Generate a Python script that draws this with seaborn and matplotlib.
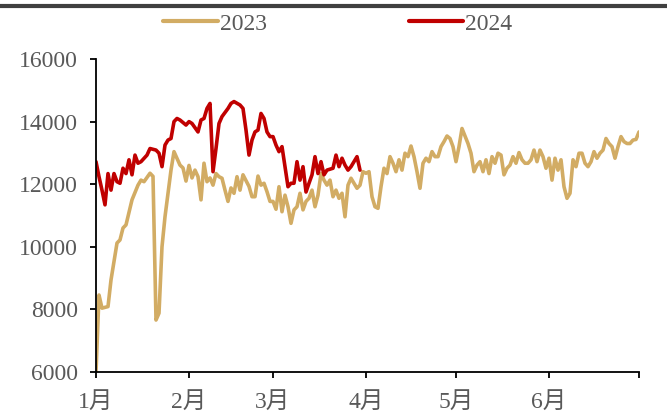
import matplotlib
matplotlib.use("Agg")
import matplotlib.pyplot as plt
from matplotlib.lines import Line2D
import pandas as pd
import seaborn as sns

# ---- data: daily price, 2023 vs 2024 (month-day, value) ----
dates_2023 = [
    "01-01", "01-02", "01-03", "01-05", "01-06", "01-08", "01-09", "01-10", "01-11", "01-13",
    "01-15", "01-16", "01-17", "01-19", "01-20", "01-21", "01-22", "01-23", "01-24", "01-26",
    "01-27", "01-29", "01-30", "01-31", "02-01", "02-02", "02-03", "02-04", "02-05", "02-06",
    "02-07", "02-08", "02-09", "02-10", "02-11", "02-12", "02-13", "02-14", "02-15", "02-16",
    "02-17", "02-18", "02-19", "02-21", "02-22", "02-23", "02-24", "02-25", "02-26", "02-27",
    "02-28", "03-01", "03-02", "03-03", "03-04", "03-05", "03-06", "03-07", "03-08", "03-09",
    "03-10", "03-11", "03-12", "03-13", "03-14", "03-15", "03-16", "03-17", "03-18", "03-19",
    "03-20", "03-21", "03-22", "03-23", "03-24", "03-25", "03-26", "03-27", "03-29", "03-30",
    "03-31", "04-01", "04-02", "04-03", "04-04", "04-05", "04-06", "04-07", "04-08", "04-09",
    "04-10", "04-11", "04-12", "04-13", "04-14", "04-15", "04-16", "04-17", "04-18", "04-19",
    "04-20", "04-21", "04-22", "04-23", "04-24", "04-25", "04-26", "04-27", "04-28", "04-29",
    "04-30", "05-01", "05-02", "05-03", "05-05", "05-06", "05-07", "05-08", "05-09", "05-10",
    "05-11", "05-12", "05-13", "05-14", "05-15", "05-16", "05-17", "05-18", "05-19", "05-20",
    "05-21", "05-22", "05-23", "05-24", "05-25", "05-26", "05-27", "05-28", "05-29", "05-30",
    "05-31", "06-01", "06-02", "06-03", "06-04", "06-05", "06-06", "06-07", "06-08", "06-09",
    "06-10", "06-11", "06-12", "06-13", "06-14", "06-15", "06-16", "06-17", "06-18", "06-19",
    "06-20", "06-21", "06-22", "06-23", "06-24", "06-25", "06-26", "06-27", "06-28", "06-29",
    "06-30", "07-01",
]
price_2023 = [
    6000, 8460, 8040, 8090, 8940, 10120, 10220, 10600, 10700, 11500,
    11970, 12130, 12080, 12350, 12250, 7660, 7880, 10000, 10960, 12450,
    13040, 12610, 12520, 12100, 12600, 12200, 12450, 12240, 11500, 12670,
    12080, 12200, 11970, 12340, 12240, 12190, 11810, 11450, 11880, 11710,
    12240, 11810, 12300, 11930, 11600, 11600, 12260, 11970, 12030, 11760,
    11450, 11450, 11200, 11920, 11120, 11650, 11280, 10750, 11180, 11280,
    11710, 11180, 11450, 11550, 11810, 11280, 11650, 12340, 12130, 11970,
    12130, 11600, 11810, 11550, 11710, 10960, 11970, 12190, 11870, 11970,
    12400, 12350, 12400, 11600, 11280, 11230, 11920, 12510, 12340, 12880,
    12670, 12400, 12780, 12450, 12990, 12880, 13220, 12880, 12400, 11870,
    12670, 12830, 12720, 13040, 12880, 12880, 13200, 13360, 13540, 13460,
    13200, 12720, 13200, 13780, 13300, 12990, 12400, 12610, 12720, 12400,
    12780, 12340, 12880, 12670, 12990, 12930, 12300, 12510, 12610, 12880,
    12670, 13010, 12780, 12670, 12670, 12780, 13090, 12720, 13090, 12880,
    12510, 12830, 12130, 12830, 12450, 12780, 11920, 11550, 11710, 12780,
    12560, 12990, 12990, 12670, 12560, 12720, 13040, 12830, 12990, 13090,
    13460, 13300, 13200, 12830, 13200, 13520, 13360, 13300, 13300, 13410,
    13430, 13670,
]

dates_2024 = [
    "01-01", "01-02", "01-03", "01-04", "01-05", "01-06", "01-07", "01-08", "01-09", "01-10",
    "01-11", "01-12", "01-13", "01-14", "01-15", "01-16", "01-18", "01-19", "01-21", "01-22",
    "01-23", "01-24", "01-25", "01-26", "01-27", "01-28", "01-29", "01-31", "02-01", "02-02",
    "02-04", "02-05", "02-06", "02-07", "02-08", "02-09", "02-10", "02-11", "02-12", "02-14",
    "02-15", "02-16", "02-18", "02-19", "02-20", "02-21", "02-22", "02-23", "02-24", "02-25",
    "02-26", "02-27", "02-28", "03-01", "03-02", "03-03", "03-04", "03-05", "03-06", "03-07",
    "03-08", "03-09", "03-10", "03-11", "03-12", "03-13", "03-14", "03-15", "03-16", "03-17",
    "03-18", "03-19", "03-21", "03-22", "03-23", "03-24", "03-25", "03-26", "03-27", "03-29",
    "03-30",
]
price_2024 = [
    12720, 12240, 11810, 11340, 12340, 11810, 12340, 12080, 12030, 12510,
    12340, 12780, 12300, 12930, 12670, 12720, 12930, 13140, 13090, 12990,
    12560, 13250, 13410, 13460, 14000, 14100, 14050, 13890, 14000, 13940,
    13670, 14050, 14100, 14420, 14580, 12400, 13140, 13940, 14160, 14420,
    14580, 14640, 14530, 14420, 13730, 12930, 13410, 13670, 13730, 14260,
    14100, 13670, 13520, 13520, 13250, 13040, 13200, 12560, 11920, 12030,
    12030, 12720, 12130, 12560, 11750, 12030, 12300, 12880, 12340, 12720,
    12300, 12450, 12510, 12930, 12560, 12830, 12610, 12450, 12560, 12880,
    12450,
]

years = ["2023", "2024"]
month_labels = ["1月", "2月", "3月", "4月", "5月", "6月", ""]
y_ticks = [6000, 8000, 10000, 12000, 14000, 16000]

colors = {"2023": "#D2AC64", "2024": "#C00000"}
text_gray = "#595959"


def on_common_axis(month_days):
    # both years share one Jan–Jun calendar axis
    return pd.to_datetime(["2023-" + md for md in month_days])


df = pd.concat([
    pd.DataFrame({"date": on_common_axis(dates_2023), "price": price_2023, "year": "2023"}),
    pd.DataFrame({"date": on_common_axis(dates_2024), "price": price_2024, "year": "2024"}),
], ignore_index=True)

sns.set_theme(style="ticks")
plt.rcParams["font.family"] = ["Liberation Serif", "Noto Sans CJK SC"]

W, H = 667, 416
fig = plt.figure(figsize=(W / 100, H / 100), dpi=100)
ax = fig.add_axes([96 / W, 1 - 372 / H, (639 - 96) / W, (372 - 59) / H])

sns.lineplot(data=df, x="date", y="price", hue="year", hue_order=years,
             palette=colors, linewidth=2.6, ax=ax, legend=False)

ax.set_xlim(pd.Timestamp("2023-01-01"), pd.Timestamp("2023-07-01"))
ax.set_ylim(6000, 16000)
month_ticks = pd.date_range("2023-01-01", "2023-07-01", freq="MS")
ax.set_xticks(month_ticks)
ax.set_xticklabels(month_labels)
ax.set_yticks(y_ticks)
ax.set_yticklabels([str(v) for v in y_ticks])
ax.set_xlabel("")
ax.set_ylabel("")

for side in ("top", "right"):
    ax.spines[side].set_visible(False)
for side in ("left", "bottom"):
    ax.spines[side].set_color("black")
    ax.spines[side].set_linewidth(1.3)
ax.tick_params(axis="both", direction="out", length=4, width=1.3, color="black",
               labelsize=17, labelcolor=text_gray)
ax.tick_params(axis="y", pad=9)
ax.tick_params(axis="x", pad=10)

handles = [Line2D([0], [0], color=colors[y], lw=3) for y in years]
fig.legend(handles, years, loc="center", bbox_to_anchor=(338 / W, 1 - 24 / H),
           ncol=2, frameon=False, fontsize=17, labelcolor=text_gray,
           handlelength=2.3, handletextpad=0.1, columnspacing=6.0)

# heading rule across the top
fig.add_artist(Line2D([0, 1], [1 - 6 / H, 1 - 6 / H], color="#404040", lw=3,
                      transform=fig.transFigure))

fig.savefig("out.png", dpi=100)
